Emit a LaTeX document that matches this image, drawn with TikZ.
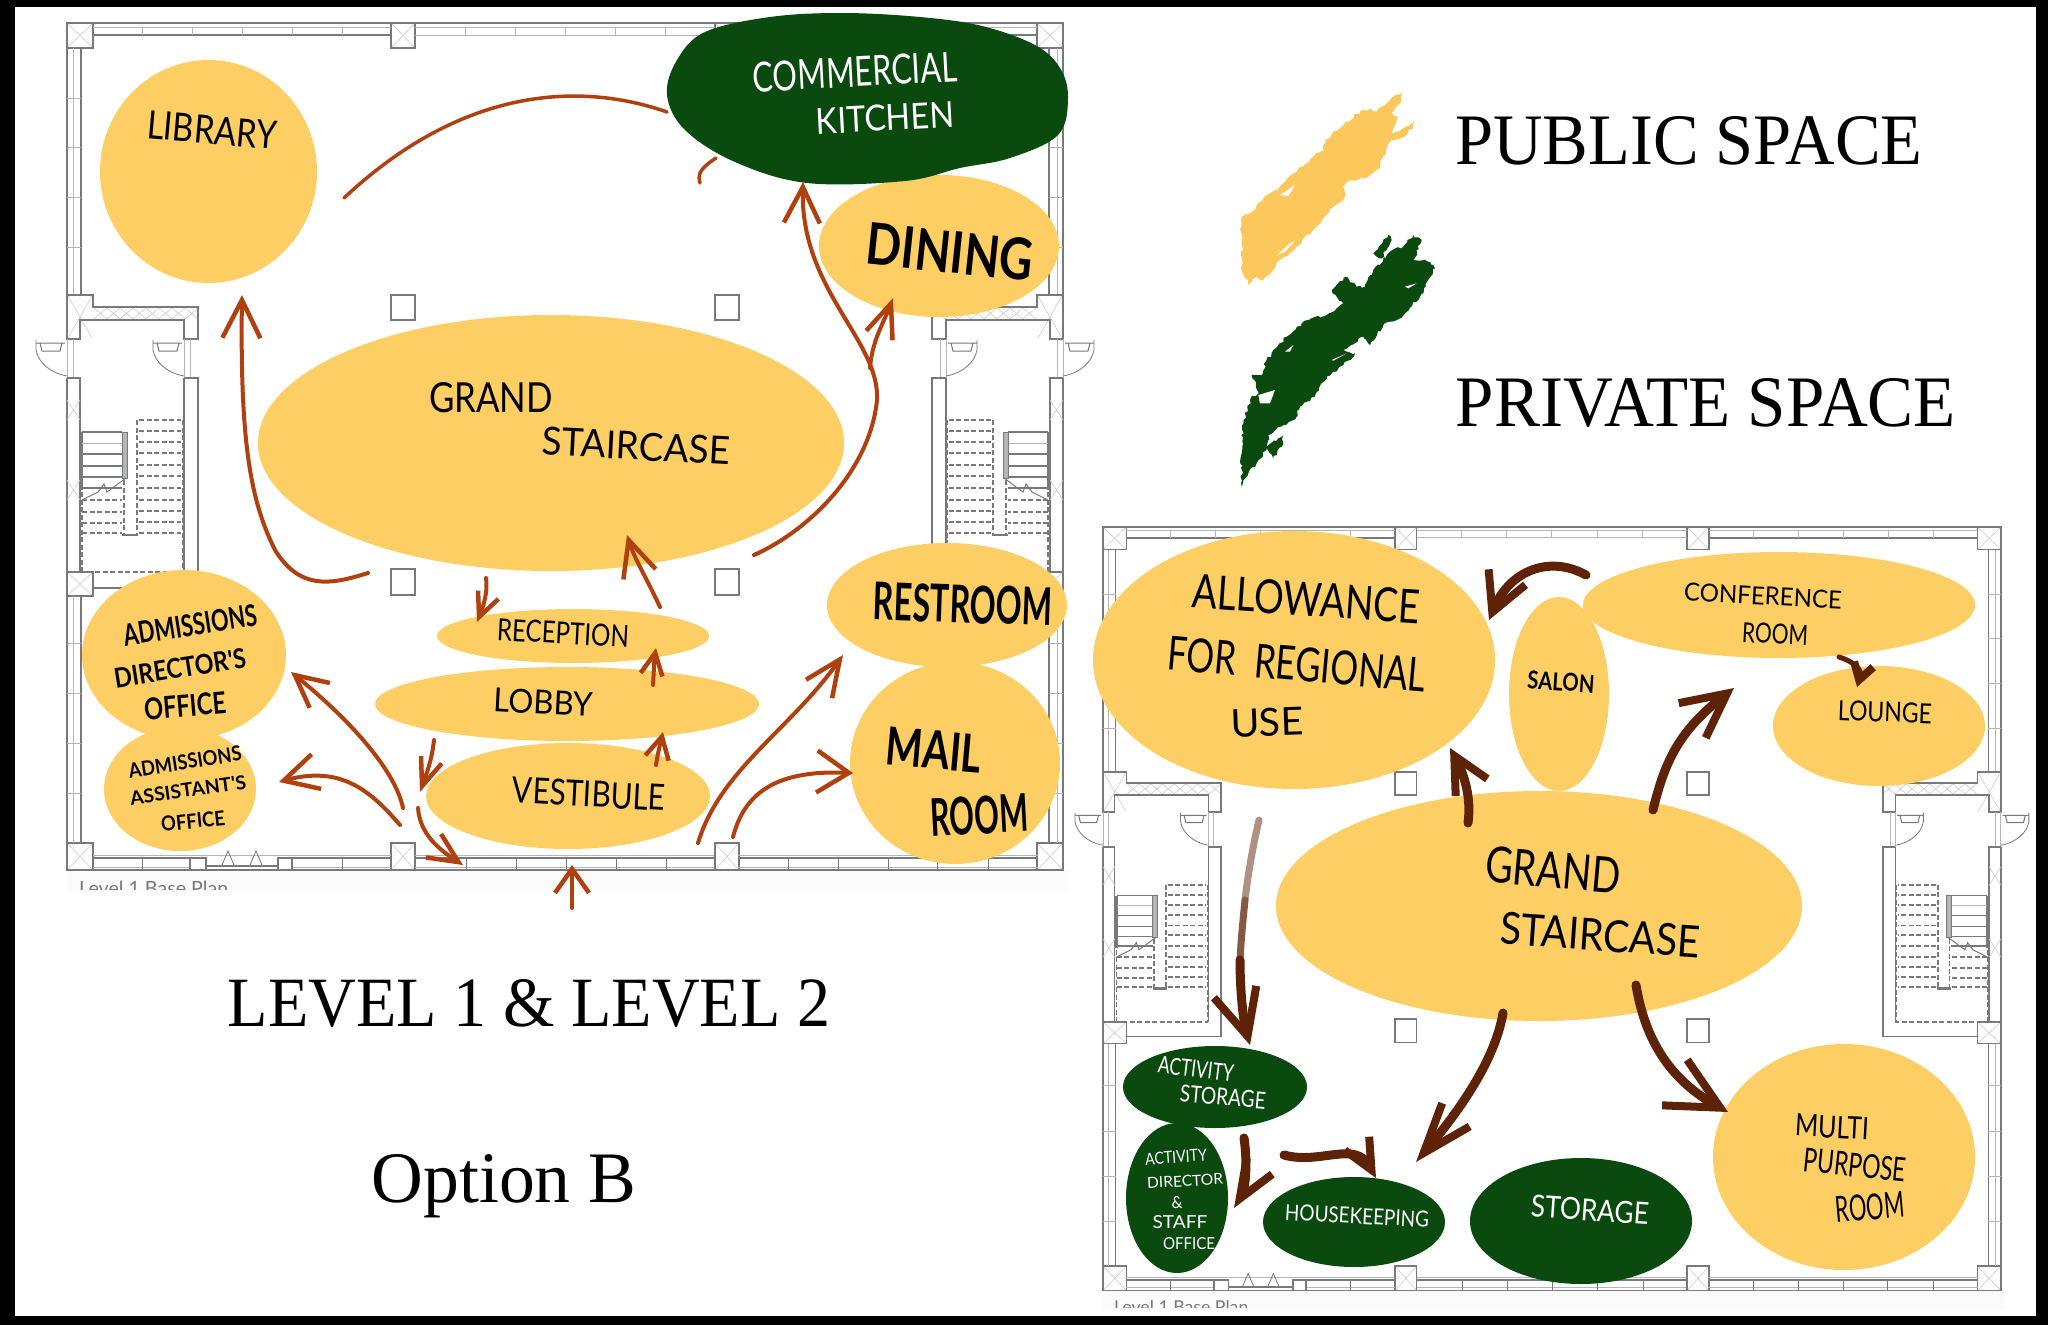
\documentclass[tikz,border=0pt]{standalone}
\usepackage{fontspec}
\setmainfont{Liberation Serif}
\newfontfamily\hwfont{Lato}
\usetikzlibrary{shapes.geometric,arrows.meta,decorations.pathmorphing}
\definecolor{pubc}{HTML}{FDCE63}
\definecolor{privc}{HTML}{0A4A0F}
\definecolor{rust}{HTML}{B1400F}
\definecolor{brownc}{HTML}{5E2206}
\definecolor{wallc}{HTML}{77797B}
\definecolor{wallt}{HTML}{B4B6B8}
\tikzset{
  pub/.style={ellipse,fill=pubc,inner sep=0pt,outer sep=0pt},
  priv/.style={ellipse,fill=privc,inner sep=0pt,outer sep=0pt},
  lbl/.style={inner sep=0pt,outer sep=0pt,text=black},
  lblw/.style={inner sep=0pt,outer sep=0pt,text=white},
  big/.style={inner sep=0pt,outer sep=0pt,text=black},
  wall/.style={draw=wallc,line width=1.5pt,fill=white},
  wline/.style={draw=wallc,line width=1.5pt},
  thin wall/.style={draw=wallt,line width=1pt},
  hatchl/.style={draw=wallt!70,line width=.6pt},
  dashl/.style={draw=wallc,line width=1.8pt,dash pattern=on 5pt off 2.5pt},
  ra/.style 2 args={draw=rust,line width=4pt,line cap=round,-{Straight Barb[length=#1pt,width=#2pt,line width=4.5pt]}},
  rn/.style={draw=rust,line width=3.5pt,line cap=round},
  ba/.style 2 args={draw=brownc,line width=9pt,line cap=round,-{Straight Barb[length=#1pt,width=#2pt,line width=8pt]}},
}
\newcommand\lab[8][lbl]{\node[#1,rotate=#7] (#2) at (#3,#4) {\resizebox{#5pt}{#6pt}{\hwfont #8}};}
\newcommand\bub[6]{\node[#1,minimum width=#5*2pt,minimum height=#6*2pt] (#2) at (#3,#4) {};}
\newcommand\planhalf{%
  % columns
  \foreach \a/\b/\c/\d in {67/23/93/48,391/23/415/48,391/843/415/870,67/843/93/870,67/572/93/596}{
    \draw[hatchl] (\a,\b)--(\c,\d) (\a,\d)--(\c,\b);
    \draw[wline] (\a,\b) rectangle (\c,\d);
  }
  \foreach \a/\b/\c/\d in {391/295/415/320,391/569/415/595}{\draw[wline,fill=white] (\a,\b) rectangle (\c,\d);}
  % top wall
  \draw[wline] (93,23)--(565,23) (93,35)--(391,35);
  \draw[thin wall] (93,27)--(391,27) (415,27)--(565,27) (415,35)--(565,35);
  \foreach \x in {142,192,242,292,342,465,515}{\draw[thin wall] (\x,27)--(\x,35);}
  % left wall upper
  \draw[wline] (67,48)--(67,295) (81,48)--(81,295);
  \draw[thin wall] (73,48)--(73,295);
  \foreach \y in {98,147,197,247}{\draw[thin wall] (67,\y)--(81,\y);}
  % tower head
  \foreach \x in {94,107,...,185}{\draw[hatchl] (\x,308)--++(13,11) (\x,319)--++(13,-11);}
  \draw[hatchl] (68,296)--(92,338) (92,296)--(68,338);
  \draw[wline] (67,295)--(93,295)--(93,307)--(198,307)--(198,339)--(184,339)--(184,320)--(80,320)--(80,339)--(67,339)--cycle;
  % door swings
  \draw[thin wall] (67,339)--(67,378) (73,339)--(73,378) (184,339)--(184,378) (190,339)--(190,378);
  \foreach \s in {0,117}{
    \begin{scope}[xshift=\s pt]
      \draw[wline,line width=1pt] (36,343)--(65,343) (40,343)--(42,351)--(60,351)--(62,343);
      \draw[thin wall,draw=wallc,line width=.8pt] (36,340)--(36,350) .. controls (38,362) and (50,373) .. (67,376);
    \end{scope}
  }
  % tower side walls
  \draw[wline] (67,378)--(80,378)--(80,572) (67,378)--(67,572);
  \draw[wline] (184,378)--(198,378)--(198,588)--(93,588) (184,378)--(184,572);
  \draw[hatchl] (67,400)--(80,420)(80,400)--(67,420)(67,480)--(80,500)(80,480)--(67,500);
  % stairs
  \draw[wline,line width=2.2pt] (82,432)--(82,490);
  \foreach \y in {432,454,466,477,488}{\draw[wline] (82,\y)--(122,\y);}
  \draw[thin wall] (82,443)--(122,443);
  \draw[fill=wallt,draw=wallc,line width=1pt] (122,432) rectangle (127,478);
  \foreach \y in {500,512,523,533}{\draw[dashl] (82,\y)--(122,\y);}
  \foreach \y in {420,431,442,453,465,476,488,500,511,522,533}{\draw[dashl] (139,\y)--(181,\y);}
  \draw[dashl] (137,420)--(137,535) (183,420)--(183,572) (82,492)--(82,572) (124,480)--(124,535) (80,572)--(184,572);
  \draw[wline,line width=2.5pt] (122,535)--(138,535);
  \draw[wline,line width=1pt] (82,500)--(98,492)--(104,484)--(107,492)--(126,478);
  % lower left wall
  \draw[wline] (67,596)--(67,843) (81,596)--(81,843);
  \draw[thin wall] (73,596)--(73,843);
  \foreach \y in {643,693,743,793}{\draw[thin wall] (67,\y)--(81,\y);}
}
\newcommand\plan[3]{%
  \begin{scope}[shift={(#1,#2)},scale=#3,shift={(-67,-23)}]
    \fill[black!1.5] (67,870) rectangle (1068,892);
    \planhalf
    \begin{scope}[shift={(1130,0)},xscale=-1]\planhalf\end{scope}
    \draw[thin wall] (515,27)--(615,27) (515,35)--(615,35);
    \draw[wline] (415,23)--(715,23);
    \draw[thin wall] (565,27)--(565,35) (615,27)--(615,35) (665,27)--(665,35);
    % bottom wall
    \draw[wline] (93,870)--(391,870) (415,870)--(714,870) (738,870)--(1038,870);
    \draw[thin wall] (93,855)--(391,855) (415,855)--(714,855) (738,855)--(1038,855);
    \draw[wline] (93,858)--(190,858) (292,858)--(391,858) (415,858)--(714,858) (738,858)--(1038,858);
    \draw[thin wall] (93,867)--(190,867) (292,867)--(391,867) (415,867)--(714,867) (738,867)--(1038,867);
    \foreach \x in {142,342,466,516,566,616,666,788,838,888,937,988}{\draw[wline,line width=1pt] (\x,858)--(\x,870);}
    \draw[wline] (190,858) rectangle (206,870) (278,858) rectangle (292,870);
    \draw[wline,line width=2pt] (206,866)--(278,866);
    \draw[wline,line width=.8pt] (222,865)--(228,851)--(234,865) (250,865)--(256,851)--(262,865);
    \begin{scope}
      \clip (70,878) rectangle (300,889);
      \node[inner sep=0pt,anchor=north west,text=wallc,transform shape] (#1lvl) at (79,881) {\resizebox{149pt}{!}{\hwfont Level 1 Base Plan}};
    \end{scope}
  \end{scope}
}
\begin{document}
\begin{tikzpicture}[x=1pt,y=-1pt]
\useasboundingbox (0,0) rectangle (2048,1325);
\fill[black] (0,0) rectangle (2048,1325);
\fill[white] (15,7) rectangle (2036,1316);
\plan{67}{23}{1}
\plan{1103}{527}{.9015}

% --- paint swatches
\begin{scope}[shift={(1200,70)},scale=1/3]
  \pgfmathsetseed{7}
  \fill[pubc!92!orange,decorate,decoration={random steps,segment length=4pt,amplitude=1.6pt}]
    (125,440)--(165,420)--(190,385)--(240,350)--(290,305)--(340,260)--(370,240)--(375,210)--(420,175)--(480,125)--(510,115)--(530,125)--(570,90)--(610,68)--(600,100)--(575,130)--(595,140)--(575,190)--(610,175)--(645,152)--(640,175)--(600,205)--(575,210)--(550,260)--(540,295)--(495,325)--(450,330)--(430,350)--(435,380)--(400,410)--(340,480)--(290,530)--(240,570)--(190,630)--(170,620)--(145,645)--(125,600)--cycle;
  \fill[white] (240,375)--(285,345)--(265,378)--cycle (232,555)--(270,520)--(285,512)--(255,545)--cycle;
  \fill[privc,decorate,decoration={random steps,segment length=3pt,amplitude=1.6pt}]
    (125,1250)--(125,1150)--(130,1060)--(150,990)--(175,965)--(155,915)--(185,915)--(200,870)--(250,810)--(310,755)--(380,735)--(430,700)--(410,680)--(395,660)--(440,620)--(470,650)--(495,650)--(520,600)--(570,545)--(610,530)--(640,495)--(665,510)--(640,570)--(690,575)--(705,595)--(660,680)--(600,745)--(550,765)--(510,825)--(490,800)--(430,840)--(465,850)--(430,885)--(380,920)--(345,980)--(300,1010)--(290,1040)--(250,1065)--(205,1095)--(200,1140)--(170,1180)--(145,1210)--cycle;
  \fill[privc,decorate,decoration={random steps,segment length=3pt,amplitude=1.4pt}] (200,1130)--(250,1095)--(245,1130)--(220,1165)--cycle;
  \fill[privc,decorate,decoration={random steps,segment length=3pt,amplitude=1.4pt}] (520,550)--(565,495)--(575,510)--(545,565)--cycle;
  \fill[white] (175,975)--(225,960)--(210,1000)--(180,1000)--cycle (395,870)--(440,850)--(400,872)--cycle (255,845)--(280,825)--(270,845)--cycle (615,650)--(650,640)--(625,655)--cycle;
\end{scope}

% --- big titles
\node[big] (tpub) at (1689,141) {\resizebox{467pt}{48pt}{PUBLIC SPACE}};
\node[big] (tpriv) at (1706,403) {\resizebox{500pt}{48pt}{PRIVATE SPACE}};
\node[big] (tlvl) at (529,1003.5) {\resizebox{602pt}{47pt}{LEVEL 1 \& LEVEL 2}};
\node[big,anchor=base] (topt) at (504,1202) {\resizebox{264.5pt}{48pt}{Option B}};

% --- bubbles, level 1
\bub{pub}{lib}{208.5}{171.5}{108.5}{111.5}
\bub{pub}{din}{939}{246}{120}{71}
\bub{pub}{gs}{551}{443}{293}{128}
\bub{pub}{rec}{573}{636}{136}{27}
\bub{pub}{lob}{567}{704}{192}{37}
\bub{pub}{ves}{568}{796}{142}{53}
\bub{pub}{dir}{184}{655}{102}{85}
\bub{pub}{asst}{180}{789}{76}{62}
\bub{pub}{rest}{947}{605}{120}{62}
\bub{pub}{mail}{955}{763}{105}{101}
\fill[privc] plot[smooth cycle,tension=.6] coordinates {(667,95)(677,60)(705,32)(770,17)(842,13)(920,17)(982,26)(1035,45)(1060,68)(1068,98)(1058,135)(1010,158)(960,168)(905,181)(807,183)(735,162)(685,130)};
\coordinate (kit) at (870,100);

% --- bubbles, level 2
\bub{pub}{alw}{1294}{660}{201}{129}
\bub{pub}{sal}{1559}{694}{50}{97}
\bub{pub}{conf}{1779}{605}{196}{53}
\bub{pub}{lng}{1879}{726}{106}{60}
\bub{pub}{gsb}{1539}{906}{263}{115}
\bub{priv}{acts}{1215}{1087}{92}{41}
\bub{priv}{actd}{1177}{1198}{51}{75}
\bub{priv}{hk}{1354}{1222}{91}{45}
\bub{priv}{stor}{1581}{1221}{111}{63}
\bub{pub}{mpr}{1844}{1157}{131}{113}

% --- labels, level 1
\lab{llib}{212}{130}{130}{28}{-5}{LIBRARY}
\lab[lblw]{lkit1}{855}{72}{204}{30}{3}{COMMERCIAL}
\lab[lblw]{lkit2}{885}{118}{138}{26}{3}{KITCHEN}
\lab{ldin}{950}{252}{168}{42}{-6}{\bfseries DINING}
\lab{lgs1}{491}{398}{124}{30}{0}{GRAND}
\lab{lgs2}{636}{446}{188}{28}{-3}{STAIRCASE}
\lab{lrec}{563}{633}{132}{22}{-3}{RECEPTION}
\lab{llob}{543}{702}{99}{24}{-3}{LOBBY}
\lab{lves}{589}{794}{153}{26}{-3}{VESTIBULE}
\lab{lres}{963}{604}{179}{38}{-2}{\bfseries RESTROOM}
\lab{lmail}{934}{750}{96}{38}{-5}{\bfseries MAIL}
\lab{lroom}{979}{815}{98}{38}{3}{\bfseries ROOM}
\lab{ldir1}{190}{625}{135}{22}{9}{\bfseries ADMISSIONS}
\lab{ldir2}{180}{668}{133}{20}{9}{\bfseries DIRECTOR'S}
\lab{ldir3}{185}{706}{82}{22}{5}{\bfseries OFFICE}
\lab{las1}{185}{762}{114}{15}{9}{\bfseries ADMISSIONS}
\lab{las2}{188}{790}{117}{14}{8}{\bfseries ASSISTANT'S}
\lab{las3}{193}{821}{64}{15}{6}{\bfseries OFFICE}

% --- labels, level 2
\lab{lal1}{1306}{599}{228}{34}{-4}{ALLOWANCE}
\lab{lal2}{1297}{664}{259}{34}{-5}{FOR\ \ REGIONAL}
\lab{lal3}{1267}{722}{73}{28}{2}{USE}
\lab{lsal}{1561}{682}{67}{18}{-4}{\bfseries SALON}
\lab{lcon1}{1763}{596}{158}{18}{-3}{CONFERENCE}
\lab{lcon2}{1775}{634}{66}{20}{-3}{ROOM}
\lab{llng}{1885}{712}{94}{20}{-2}{LOUNGE}
\lab{lgb1}{1553}{870}{135}{36}{-5}{GRAND}
\lab{lgb2}{1600}{935}{200}{32}{-4}{STAIRCASE}
\lab[lblw]{las}{1196}{1069}{76}{17}{-7}{ACTIVITY}
\lab[lblw]{lst}{1223}{1097}{86}{17}{-5}{STORAGE}
\lab[lblw]{lad1}{1176}{1157}{62}{12}{4}{ACTIVITY}
\lab[lblw]{lad2}{1185}{1181}{76}{11}{3}{DIRECTOR}
\lab[lblw]{lad3}{1177}{1203}{11}{12}{0}{\&}
\lab[lblw]{lad4}{1180}{1222}{55}{13}{0}{STAFF}
\lab[lblw]{lad5}{1189}{1244}{52}{12}{0}{OFFICE}
\lab[lblw]{lhk}{1357}{1216}{144}{16}{-3}{HOUSEKEEPING}
\lab[lblw]{lsto}{1590}{1210}{118}{22}{-4}{STORAGE}
\lab{lmp1}{1832}{1127}{74}{22}{-3}{MULTI}
\lab{lmp2}{1855}{1165}{103}{24}{-6}{PURPOSE}
\lab{lmp3}{1870}{1207}{69}{26}{5}{ROOM}

% --- connector free ends, level 1
\coordinate (a1s) at (667,112); \coordinate (a1e) at (344,198);
\coordinate (a2s) at (716,158); \coordinate (a2e) at (700,183);
\coordinate (a3s) at (368,573); \coordinate (a3e) at (242,295);
\coordinate (a4s) at (754,555); \coordinate (a4e) at (803,182);
\coordinate (a5s) at (870,368); \coordinate (a5e) at (893,298);
\coordinate (a6s) at (660,607); \coordinate (a6e) at (627,535);
\coordinate (a7s) at (486,578); \coordinate (a7e) at (477,622);
\coordinate (a8s) at (653,685); \coordinate (a8e) at (656,648);
\coordinate (a9s) at (656,765); \coordinate (a9e) at (663,732);
\coordinate (a10s) at (434,740); \coordinate (a10e) at (420,792);
\coordinate (a11s) at (403,808); \coordinate (a11e) at (291,672);
\coordinate (a12s) at (400,825); \coordinate (a12e) at (279,782);
\coordinate (a13s) at (418,808); \coordinate (a13e) at (463,865);
\coordinate (a14s) at (572,908); \coordinate (a14e) at (572,865);
\coordinate (a15s) at (698,843); \coordinate (a15e) at (843,655);
\coordinate (a16s) at (733,837); \coordinate (a16e) at (853,773);
\draw[rn] (a1s) .. controls (590,85) and (470,80) .. (a1e);
\draw[rn] (a2s) .. controls (698,170) and (698,175) .. (a2e);
\draw[ra={38}{38}] (a3s) .. controls (330,585) and (300,590) .. (275,550) .. controls (250,500) and (240,440) .. (a3e);
\draw[ra={36}{36}] (a4s) .. controls (810,530) and (870,470) .. (877,400) .. controls (880,340) and (800,290) .. (a4e);
\draw[ra={34}{28}] (a5s) .. controls (872,340) and (885,320) .. (a5e);
\draw[ra={36}{34}] (a6s) .. controls (645,575) and (635,560) .. (a6e);
\draw[ra={24}{22}] (a7s) .. controls (488,590) and (484,605) .. (a7e);
\draw[ra={22}{22}] (a8s) .. controls (654,670) and (654,660) .. (a8e);
\draw[ra={22}{24}] (a9s) .. controls (658,752) and (660,745) .. (a9e);
\draw[ra={28}{22}] (a10s) .. controls (432,760) and (426,775) .. (a10e);
\draw[ra={32}{32}] (a11s) .. controls (395,770) and (350,720) .. (a11e);
\draw[ra={34}{36}] (a12s) .. controls (370,790) and (340,765) .. (a12e);
\draw[ra={30}{28}] (a13s) .. controls (420,835) and (440,850) .. (a13e);
\draw[ra={24}{34}] (a14s) -- (a14e);
\draw[ra={36}{32}] (a15s) .. controls (720,770) and (790,730) .. (a15e);
\draw[ra={32}{42}] (a16s) .. controls (745,790) and (780,770) .. (a16e);

% --- connector free ends, level 2
\coordinate (b1s) at (1586,575); \coordinate (b1e) at (1489,620);
\coordinate (b2s) at (1468,823); \coordinate (b2e) at (1450,748);
\coordinate (b3s) at (1653,810); \coordinate (b3e) at (1734,688);
\coordinate (b4s) at (1839,657); \coordinate (b4e) at (1857,687);
\coordinate (b5s) at (1259,820); \coordinate (b5m) at (1245,900); \coordinate (b5n) at (1240,960); \coordinate (b5e) at (1250,1045);
\coordinate (b6s) at (1503,1013); \coordinate (b6e) at (1416,1162);
\coordinate (b7s) at (1636,985); \coordinate (b7e) at (1728,1112);
\coordinate (b8s) at (1244,1138); \coordinate (b8e) at (1234,1208);
\coordinate (b9s) at (1284,1155); \coordinate (b9e) at (1376,1178);
\draw[ba={38}{40}] (b1s) .. controls (1550,555) and (1510,570) .. (b1e);
\draw[ba={36}{36}] (b2s) .. controls (1472,795) and (1462,770) .. (b2e);
\draw[ba={44}{44}] (b3s) .. controls (1665,760) and (1680,730) .. (b3e);
\draw[ba={16}{20},line width=5pt] (b4s) .. controls (1855,662) and (1862,670) .. (b4e);
\draw[draw=brownc!50!white,line width=7pt,line cap=round] (b5s) .. controls (1252,850) and (1248,875) .. (b5m);
\draw[draw=brownc!75!white,line width=7pt,line cap=round] (b5m) .. controls (1243,920) and (1241,940) .. (b5n);
\draw[ba={46}{44}] (b5n) .. controls (1240,990) and (1243,1020) .. (b5e);
\draw[ba={50}{36}] (b6s) .. controls (1495,1060) and (1460,1110) .. (b6e);
\draw[ba={52}{52}] (b7s) .. controls (1645,1040) and (1670,1080) .. (b7e);
\draw[ba={38}{30}] (b8s) .. controls (1248,1165) and (1245,1190) .. (b8e);
\draw[ba={30}{28}] (b9s) .. controls (1320,1165) and (1355,1140) .. (b9e);
\end{tikzpicture}
\end{document}
